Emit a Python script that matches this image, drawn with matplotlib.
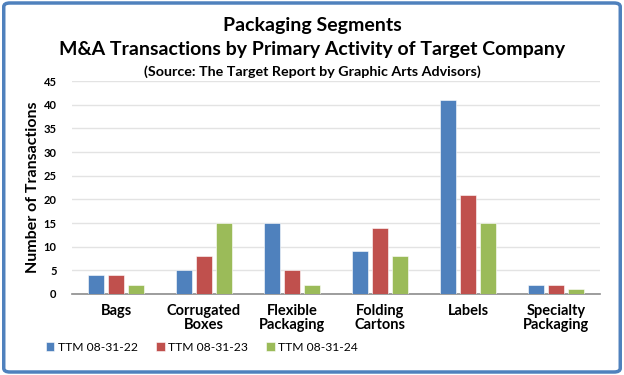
import matplotlib.pyplot as plt
import numpy as np
from matplotlib.patches import FancyBboxPatch

# Datos
categorias = ['Bags', 'Corrugated\nBoxes', 'Flexible\nPackaging', 'Folding\nCartons', 'Labels', 'Specialty\nPackaging']
ttm_22 = [4, 5, 15, 9, 41, 2]
ttm_23 = [4, 8, 5, 14, 21, 2]
ttm_24 = [2, 15, 2, 8, 15, 1]
series = ['TTM 08-31-22', 'TTM 08-31-23', 'TTM 08-31-24']
colores = ['#4F81BD', '#C0504D', '#9BBB59']

plt.rcParams['font.family'] = ['Lato', 'DejaVu Sans']

fig = plt.figure(figsize=(6.24, 3.75), dpi=100)
ax = fig.add_axes([72 / 624, 1 - 294 / 375, 528 / 624, 213 / 375])

x = np.arange(len(categorias))
ancho = 0.18
paso = 0.224
for i, (vals, nombre, col) in enumerate(zip([ttm_22, ttm_23, ttm_24], series, colores)):
    ax.bar(x + (i - 1) * paso, vals, ancho, color=col, label=nombre,
           edgecolor='white', linewidth=0.4, zorder=3)

ax.set_xlim(-0.5, len(categorias) - 0.5)
ax.set_ylim(0, 45)
ax.set_yticks(range(0, 46, 5))
ax.set_xticks(x)
ax.set_xticklabels(categorias, fontsize=10.5, fontweight='bold', linespacing=1.0)
ax.tick_params(axis='y', labelsize=8, length=0, pad=11)
ax.tick_params(axis='x', length=0, pad=7)
for lbl in ax.get_yticklabels():
    lbl.set_fontweight('bold')
ax.grid(axis='y', color='#E3E3E3', linewidth=1, zorder=0)
for s in ['top', 'right', 'left']:
    ax.spines[s].set_visible(False)
ax.spines['bottom'].set_color('#8C8C8C')
ax.spines['bottom'].set_linewidth(1.2)
ax.set_ylabel('Number of Transactions', fontsize=11.5, fontweight='bold', labelpad=3)

# Titulos
fig.text(0.5, 1 - 25 / 375, 'Packaging Segments', ha='center', va='center', fontsize=14, fontweight='bold')
fig.text(0.5, 1 - 50 / 375, 'M&A Transactions by Primary Activity of Target Company', ha='center', va='center',
         fontsize=14, fontweight='bold')
fig.text(0.5, 1 - 72 / 375, '(Source: The Target Report by Graphic Arts Advisors)', ha='center', va='center',
         fontsize=10.3, fontweight='bold')

ax.legend(loc='center left', bbox_to_anchor=(-0.07, -0.249), ncol=3, frameon=False, fontsize=8.7,
          handlelength=0.7, handleheight=0.7, handletextpad=0.3, columnspacing=1.5)

# Marco
marco = FancyBboxPatch((0.006, 0.008), 0.988, 0.984, boxstyle='round,pad=0,rounding_size=0.01',
                       transform=fig.transFigure, facecolor='none', edgecolor='#4F81BD', linewidth=2.5)
fig.patches.append(marco)

plt.savefig('out.png', dpi=100)
